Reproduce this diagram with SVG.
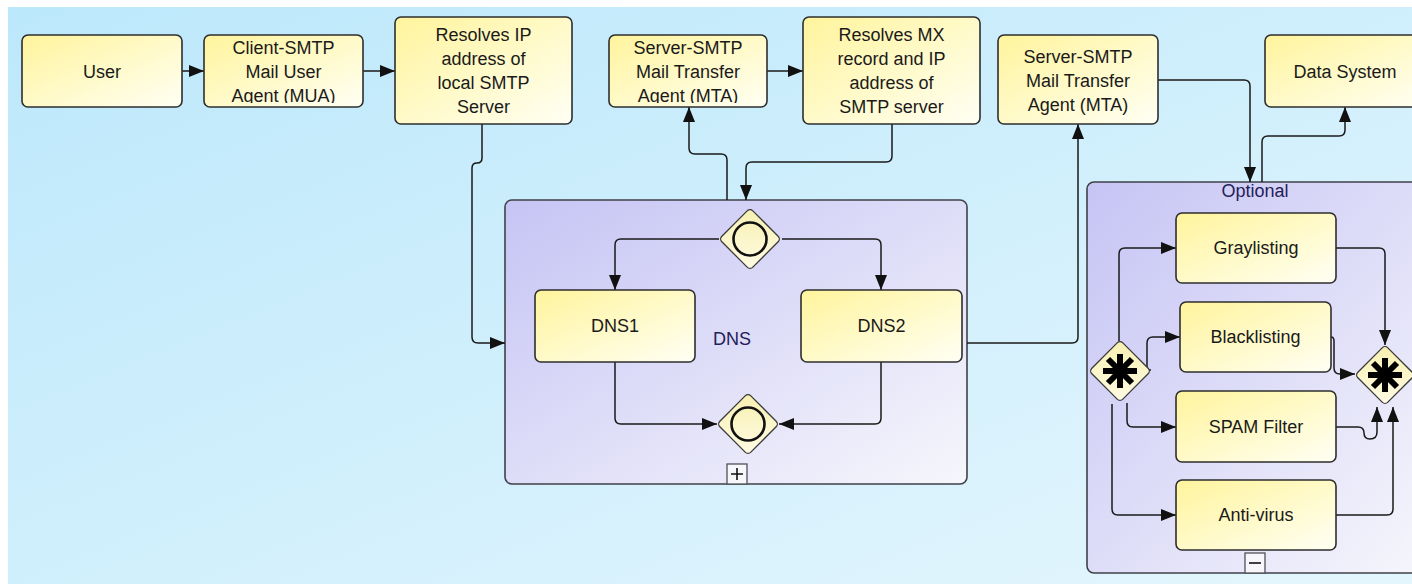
<svg xmlns="http://www.w3.org/2000/svg" width="1412" height="584" viewBox="0 0 1412 584">
<defs>
<linearGradient id="gBg" x1="0" y1="0" x2="1" y2="1"><stop offset="0" stop-color="#bce8fb"/><stop offset="1" stop-color="#e4f6fd"/></linearGradient>
<linearGradient id="gTask" x1="0" y1="0" x2="1" y2="1"><stop offset="0" stop-color="#fff49c"/><stop offset="1" stop-color="#fffff4"/></linearGradient>
<linearGradient id="gGw" x1="0" y1="0" x2="1" y2="1"><stop offset="0" stop-color="#f7f0b0"/><stop offset="1" stop-color="#fffbe4"/></linearGradient>
<linearGradient id="gPool" x1="0" y1="0" x2="1" y2="1"><stop offset="0" stop-color="#c6c4f4"/><stop offset="1" stop-color="#f6f6fc"/></linearGradient>
<marker id="ah" markerUnits="userSpaceOnUse" markerWidth="15" markerHeight="12" refX="15" refY="6" orient="auto"><path d="M0,0 L15,6 L0,12 z" fill="#111"/></marker>
<clipPath id="clipC"><rect x="204" y="35" width="159" height="68"/></clipPath>
<clipPath id="clipS1"><rect x="609" y="35" width="158" height="68"/></clipPath>
</defs>
<style>
.task{fill:url(#gTask);stroke:#2e2e2e;stroke-width:1.6}
.pool{fill:url(#gPool);stroke:#404048;stroke-width:1.6}
.gw{fill:url(#gGw);stroke:#3a3a3a;stroke-width:1.3}
.t{font-family:"Liberation Sans",Arial,sans-serif;font-size:18px;fill:#1a1a1a;text-anchor:middle}
.lbl{fill:#25205a}
.c{fill:none;stroke:#1a1a1a;stroke-width:1.5;marker-end:url(#ah)}
.ring{fill:none;stroke:#111;stroke-width:2.6}
.star{stroke:#000;stroke-width:6}
.mk{fill:#f6f6fb;stroke:#505058;stroke-width:1.3}
.mks{stroke:#111;stroke-width:1.6}
</style>
<rect x="0" y="0" width="1412" height="584" fill="#ffffff"/>
<rect x="8" y="7" width="1404" height="577" fill="url(#gBg)"/>

<g id="pool-dns">
<rect class="pool" x="505" y="200" width="462" height="284" rx="7"/>
<text class="t lbl" x="732" y="345">DNS</text>
<rect class="mk" x="727" y="464" width="20" height="20"/>
<path class="mks" d="M731,474 H743 M737,468 V480"/>
</g>
<g id="pool-optional">
<rect class="pool" x="1087" y="182" width="340" height="391" rx="7"/>
<text class="t lbl" x="1255" y="197">Optional</text>
<rect class="mk" x="1245" y="553" width="20" height="20"/>
<path class="mks" d="M1249,563 H1261"/>
</g>

<g id="connectors">
<path class="c" d="M182,71 H204"/>
<path class="c" d="M363,71 H395"/>
<path class="c" d="M482,124 V158 Q482,163 477,163 Q472,163 472,168 V337 Q472,343 478,343 H505"/>
<path class="c" d="M727,200 V160 Q727,154 721,154 H695 Q689,154 689,148 V107"/>
<path class="c" d="M767,71 H803"/>
<path class="c" d="M892,124 V156 Q892,162 886,162 H752 Q746,162 746,168 V200"/>
<path class="c" d="M967,343 H1072 Q1078,343 1078,337 V124"/>
<path class="c" d="M1158,80 H1244 Q1250,80 1250,86 V182"/>
<path class="c" d="M1262,182 V142 Q1262,136 1268,136 H1339 Q1345,136 1345,130 V107"/>
<path class="c" d="M719,239 H621 Q615,239 615,245 V290"/>
<path class="c" d="M782,239 H875 Q881,239 881,245 V290"/>
<path class="c" d="M615,362 V418 Q615,424 621,424 H717"/>
<path class="c" d="M881,362 V418 Q881,424 875,424 H779"/>
<path class="c" d="M1119,341 V254 Q1119,248 1125,248 H1176"/>
<path class="c" d="M1151,370 H1147 V343 Q1147,337 1153,337 H1180"/>
<path class="c" d="M1127,403 V421 Q1127,427 1133,427 H1176"/>
<path class="c" d="M1112,404 V509 Q1112,515 1118,515 H1176"/>
<path class="c" d="M1336,248 H1379 Q1385,248 1385,254 V345"/>
<path class="c" d="M1331,337 Q1334,337 1334,341 V368 Q1334,374 1340,374 H1355"/>
<path class="c" d="M1336,427 H1358 Q1364,427 1364,433 Q1364,439 1370,439 Q1377,439 1377,432 V407"/>
<path class="c" d="M1336,515 H1387 Q1393,515 1393,509 V407"/>
</g>

<g id="user">
<rect class="task" x="22" y="35" width="160" height="72" rx="6"/>
<text class="t" x="102" y="78">User</text>
</g>
<g id="client-smtp">
<rect class="task" x="204" y="35" width="159" height="72" rx="6"/>
<text class="t" clip-path="url(#clipC)"><tspan x="283.5" y="54">Client-SMTP</tspan><tspan x="283.5" y="78">Mail User</tspan><tspan x="283.5" y="102">Agent (MUA)</tspan></text>
</g>
<g id="resolves-ip">
<rect class="task" x="395" y="17" width="177" height="107" rx="6"/>
<text class="t"><tspan x="483.5" y="41">Resolves IP</tspan><tspan x="483.5" y="65">address of</tspan><tspan x="483.5" y="89">local SMTP</tspan><tspan x="483.5" y="113">Server</tspan></text>
</g>
<g id="server-smtp-1">
<rect class="task" x="609" y="35" width="158" height="72" rx="6"/>
<text class="t" clip-path="url(#clipS1)"><tspan x="688" y="54">Server-SMTP</tspan><tspan x="688" y="78">Mail Transfer</tspan><tspan x="688" y="102">Agent (MTA)</tspan></text>
</g>
<g id="resolves-mx">
<rect class="task" x="803" y="17" width="177" height="107" rx="6"/>
<text class="t"><tspan x="891.5" y="41">Resolves MX</tspan><tspan x="891.5" y="65">record and IP</tspan><tspan x="891.5" y="89">address of</tspan><tspan x="891.5" y="113">SMTP server</tspan></text>
</g>
<g id="server-smtp-2">
<rect class="task" x="998" y="35" width="160" height="89" rx="6"/>
<text class="t"><tspan x="1078" y="63">Server-SMTP</tspan><tspan x="1078" y="87">Mail Transfer</tspan><tspan x="1078" y="111">Agent (MTA)</tspan></text>
</g>
<g id="data-system">
<rect class="task" x="1265" y="35" width="160" height="72" rx="6"/>
<text class="t" x="1345" y="78">Data System</text>
</g>

<g id="dns-split">
<rect class="gw" x="-21.9" y="-21.9" width="43.8" height="43.8" rx="4" transform="translate(750,239) rotate(45)"/>
<circle class="ring" cx="750" cy="239" r="16.5"/>
</g>
<g id="dns1">
<rect class="task" x="535" y="290" width="160" height="72" rx="6"/>
<text class="t" x="615" y="332">DNS1</text>
</g>
<g id="dns2">
<rect class="task" x="801" y="290" width="161" height="72" rx="6"/>
<text class="t" x="881.5" y="332">DNS2</text>
</g>
<g id="dns-join">
<rect class="gw" x="-21.9" y="-21.9" width="43.8" height="43.8" rx="4" transform="translate(748,424) rotate(45)"/>
<circle class="ring" cx="748" cy="424" r="16.5"/>
</g>

<g id="opt-split">
<rect class="gw" x="-21.9" y="-21.9" width="43.8" height="43.8" rx="4" transform="translate(1120,371) rotate(45)"/>
<path class="star" d="M1120,354 V388 M1103,371 H1137 M1108,359 L1132,383 M1132,359 L1108,383"/>
</g>
<g id="graylisting">
<rect class="task" x="1176" y="213" width="160" height="70" rx="6"/>
<text class="t" x="1256" y="254">Graylisting</text>
</g>
<g id="blacklisting">
<rect class="task" x="1180" y="302" width="151" height="70" rx="6"/>
<text class="t" x="1255.5" y="343">Blacklisting</text>
</g>
<g id="spam-filter">
<rect class="task" x="1176" y="391" width="160" height="71" rx="6"/>
<text class="t" x="1256" y="433">SPAM Filter</text>
</g>
<g id="anti-virus">
<rect class="task" x="1176" y="480" width="160" height="70" rx="6"/>
<text class="t" x="1256" y="521">Anti-virus</text>
</g>
<g id="opt-join">
<rect class="gw" x="-21.2" y="-21.2" width="42.4" height="42.4" rx="4" transform="translate(1385,375) rotate(45)"/>
<path class="star" d="M1385,358 V392 M1368,375 H1402 M1373,363 L1397,387 M1397,363 L1373,387"/>
</g>
</svg>
